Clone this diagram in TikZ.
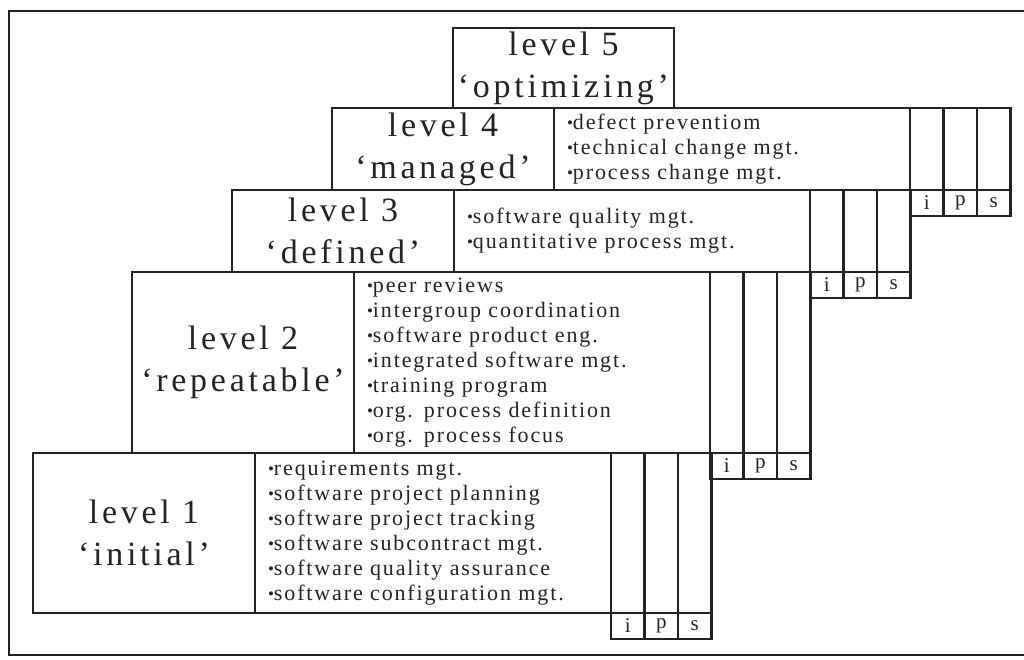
\documentclass[tikz,border=0pt]{standalone}
\usepackage{fontspec}
\setmainfont{Liberation Serif}
\newfontfamily\lvlfont[LetterSpace=11,Ligatures=TeX]{Liberation Serif}
\newfontfamily\itemfont[LetterSpace=8.5,Ligatures=TeX]{Liberation Serif}
\usetikzlibrary{positioning}
\definecolor{ink}{RGB}{35,35,35}
\newcommand{\bul}{{\fontsize{17}{17}\selectfont\raisebox{0.15ex}{•}}}

\begin{document}
\begin{tikzpicture}[x=1pt,y=-1pt,line width=2.2pt,color=ink,
  lvl box/.style={draw,outer sep=0pt,inner sep=0pt,minimum width=222pt,align=center,
    font=\lvlfont\fontsize{34}{42}\selectfont},
  item box/.style={draw,outer sep=0pt,inner xsep=13pt,inner ysep=0pt,minimum width=356pt,
    text width=330pt,align=left,font=\itemfont\fontsize{22}{25}\selectfont},
  col box/.style={draw,outer sep=0pt,inner sep=0pt,minimum width=33.5pt},
  tag box/.style={draw,outer sep=0pt,inner sep=0pt,minimum width=33.5pt,minimum height=26pt,
    font=\fontsize{21}{21}\selectfont}]

  \useasboundingbox (0,0) rectangle (1024,659);

  % frame, open on the right
  \draw (1030,11) -- (9,11) -- (9,655) -- (1030,655);

  % level 1
  \node[lvl box,minimum height=160pt,anchor=north west] (l1) at (33,453) {level 1\\‘initial’};
  \node[item box,minimum height=160pt,right=0pt of l1] (t1)
    {\bul requirements mgt.\\ \bul software project planning\\ \bul software project tracking\\
     \bul software subcontract mgt.\\ \bul software quality assurance\\ \bul software configuration mgt.};
  \node[col box,minimum height=160pt,right=0pt of t1] (c1i) {};
  \node[col box,minimum height=160pt,right=0pt of c1i] (c1p) {};
  \node[col box,minimum height=160pt,right=0pt of c1p] (c1s) {};
  \foreach \k in {i,p,s} \node[tag box,below=0pt of c1\k] (g1\k) {\k};

  % level 2
  \node[lvl box,minimum height=181pt,anchor=north west] (l2) at (132,272) {level 2\\‘repeatable’};
  \node[item box,minimum height=181pt,right=0pt of l2] (t2)
    {\bul peer reviews\\ \bul intergroup coordination\\ \bul software product eng.\\
     \bul integrated software mgt.\\ \bul training program\\ \bul org. process definition\\
     \bul org. process focus};
  \node[col box,minimum height=181pt,right=0pt of t2] (c2i) {};
  \node[col box,minimum height=181pt,right=0pt of c2i] (c2p) {};
  \node[col box,minimum height=181pt,right=0pt of c2p] (c2s) {};
  \foreach \k in {i,p,s} \node[tag box,below=0pt of c2\k] (g2\k) {\k};

  % level 3
  \node[lvl box,minimum height=82pt,anchor=north west] (l3) at (232,190) {level 3\\‘defined’};
  \node[item box,minimum height=82pt,right=0pt of l3] (t3)
    {\bul software quality mgt.\\ \bul quantitative process mgt.};
  \node[col box,minimum height=82pt,right=0pt of t3] (c3i) {};
  \node[col box,minimum height=82pt,right=0pt of c3i] (c3p) {};
  \node[col box,minimum height=82pt,right=0pt of c3p] (c3s) {};
  \foreach \k in {i,p,s} \node[tag box,below=0pt of c3\k] (g3\k) {\k};

  % level 4
  \node[lvl box,minimum height=82pt,anchor=north west] (l4) at (332,108) {level 4\\‘managed’};
  \node[item box,minimum height=82pt,right=0pt of l4] (t4)
    {\bul defect preventiom\\ \bul technical change mgt.\\ \bul process change mgt.};
  \node[col box,minimum height=82pt,right=0pt of t4] (c4i) {};
  \node[col box,minimum height=82pt,right=0pt of c4i] (c4p) {};
  \node[col box,minimum height=82pt,right=0pt of c4p] (c4s) {};
  \foreach \k in {i,p,s} \node[tag box,below=0pt of c4\k] (g4\k) {\k};

  % level 5
  \node[lvl box,minimum height=80pt,minimum width=221pt,anchor=north west] (l5) at (453,28)
    {level 5\\‘optimizing’};
\end{tikzpicture}
\end{document}
